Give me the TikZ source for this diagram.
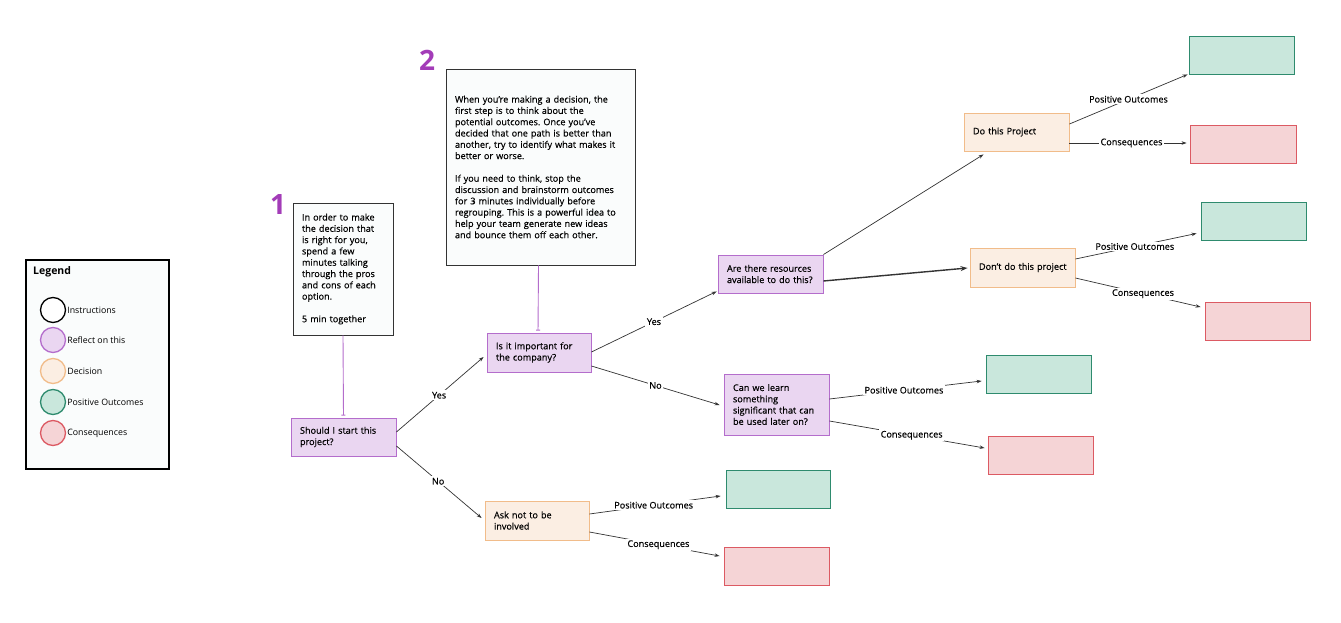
\documentclass[tikz,border=0pt]{standalone}
\usepackage{fontspec}
\setmainfont{Open Sans}
\newfontfamily\medfont{Open Sans}[FakeBold=0.35]
\usetikzlibrary{arrows.meta,calc}
\frenchspacing
\definecolor{reflectF}{HTML}{EAD6F1}
\definecolor{reflectB}{HTML}{B46DCC}
\definecolor{decF}{HTML}{FBEEE3}
\definecolor{decB}{HTML}{F1BC8A}
\definecolor{posF}{HTML}{C9E7DC}
\definecolor{posB}{HTML}{2E8B6E}
\definecolor{conF}{HTML}{F5D4D6}
\definecolor{conB}{HTML}{DC5A63}
\definecolor{ink}{HTML}{333333}
\definecolor{numc}{HTML}{A33CB8}
\definecolor{paper}{HTML}{FAFCFC}
\tikzset{
  txt/.style={font=\medfont\fontsize{9.1}{11.3}\selectfont},
  ltxt/.style={font=\fontsize{8.8}{11}\selectfont},
  box/.style={txt, rectangle, line width=0.9pt, inner xsep=9pt, inner ysep=0pt, align=left},
  reflect/.style={box, draw=reflectB, fill=reflectF},
  decision/.style={box, draw=decB, fill=decF},
  posbox/.style={rectangle, draw=posB, fill=posF, line width=0.9pt, minimum width=105pt, minimum height=38pt},
  conbox/.style={rectangle, draw=conB, fill=conF, line width=0.9pt, minimum width=105pt, minimum height=38pt},
  instr/.style={box, draw=ink, fill=paper},
  conn/.style={draw=ink, line width=0.7pt, -{Stealth[length=5pt,width=3.5pt]}},
  lbl/.style={txt, fill=white, inner sep=1.5pt},
  tie/.style={draw=reflectB, line width=0.9pt, -{Bar[width=4pt]}, shorten >=2pt},
  legc/.style={circle, minimum size=25pt, inner sep=0pt, line width=1.3pt},
  num/.style={font=\fontsize{28}{28}\selectfont\bfseries, text=numc, inner sep=0pt}
}
\begin{document}
\begin{tikzpicture}[x=1pt,y=-1pt]
\useasboundingbox (0,0) rectangle (1341,623);
\fill[white] (0,0) rectangle (1341,623);

% Legend
\node[draw=black, fill=paper, line width=1.4pt, minimum width=143pt, minimum height=209pt, inner sep=0pt] (legend) at (97.5,364.5) {};
\node[anchor=west, font=\fontsize{10.5}{12}\selectfont\bfseries, inner sep=0pt] (legt) at (33,272) {Legend};
\node[legc, draw=black, fill=white] (c1) at (53,310) {};
\node[legc, draw=reflectB, fill=reflectF] (c2) at (53,340) {};
\node[legc, draw=decB, fill=decF] (c3) at (53,371) {};
\node[legc, draw=posB, fill=posF] (c4) at (53,402) {};
\node[legc, draw=conB, fill=conF] (c5) at (53,433) {};
\node[ltxt, anchor=west, inner sep=1pt] (l1) at (c1.east) {Instructions};
\node[ltxt, anchor=west, inner sep=1pt] (l2) at (c2.east) {Reflect on this};
\node[ltxt, anchor=west, inner sep=1pt] (l3) at (c3.east) {Decision};
\node[ltxt, anchor=west, inner sep=1pt] (l4) at (c4.east) {Positive Outcomes};
\node[ltxt, anchor=west, inner sep=1pt] (l5) at (c5.east) {Consequences};

% Numbers
\node[num] (n1) at (278,205) {1};
\node[num] (n2) at (427,60) {2};

% Instruction boxes
\node[instr, minimum width=100pt, minimum height=132pt, text width=82pt, inner xsep=9pt] (box1) at (343,269)
 {In order to make\\the decision that\\is right for you,\\spend a few\\minutes talking\\through the pros\\and cons of each\\option.\\[11.3pt]5 min together};
\node[instr, minimum width=189pt, minimum height=196pt, text width=171pt] (box2) at (540.5,167)
 {When you’re making a decision, the\\first step is to think about the\\potential outcomes. Once you’ve\\decided that one path is better than\\another, try to identify what makes it\\better or worse.\\[11.3pt]If you need to think, stop the\\discussion and brainstorm outcomes\\for 3 minutes individually before\\regrouping. This is a powerful idea to\\help your team generate new ideas\\and bounce them off each other.};

% Flow nodes
\node[reflect, minimum width=105pt, minimum height=38pt, text width=87pt] (should) at (343.5,437) {Should I start this\\project?};
\node[reflect, minimum width=104pt, minimum height=39pt, text width=86pt] (imp) at (539,352.5) {Is it important for\\the company?};
\node[decision, minimum width=104pt, minimum height=39pt, text width=86pt] (ask) at (537,520.5) {Ask not to be\\involved};
\node[reflect, minimum width=105pt, minimum height=38pt, text width=87pt] (res) at (770.5,274) {Are there resources\\available to do this?};
\node[reflect, minimum width=105pt, minimum height=61pt, text width=87pt] (learn) at (776.5,404.5) {Can we learn\\something\\significant that can\\be used later on?};
\node[decision, minimum width=105pt, minimum height=38pt, text width=87pt] (dothis) at (1016.5,132) {Do this Project};
\node[decision, minimum width=105pt, minimum height=39pt, text width=87pt] (dont) at (1022.5,267.5) {\mbox{Don’t do this project}};

% Outcome boxes
\node[posbox] (g1) at (1241.5,55) {};
\node[conbox, minimum width=106pt] (r1) at (1243,144) {};
\node[posbox] (g2) at (1253.5,221) {};
\node[conbox] (r2) at (1257.5,321) {};
\node[posbox] (g3) at (1038.5,374.5) {};
\node[conbox] (r3) at (1040.5,455) {};
\node[posbox, minimum width=104pt] (g4) at (778,489) {};
\node[conbox] (r4) at (776.5,566) {};

% Purple ties
\draw[tie] (box1.south) -- (should.north);
\draw[tie] ($(box2.south)+(-2,0)$) -- ($(imp.north)+(-1,0)$);

% Connectors
\draw[conn] ($(should.east)+(0,-5)$) -- node[lbl,pos=0.49]{Yes} ($(imp.west)+(-3,4.5)$);
\draw[conn] ($(should.east)+(0,9)$) -- node[lbl,pos=0.49]{No} ($(ask.west)+(-3,-2.5)$);
\draw[conn] ($(imp.east)+(0,-0.5)$) -- node[lbl,pos=0.5]{Yes} ($(res.south west)+(-1,-2)$);
\draw[conn] ($(imp.east)+(0,13.5)$) -- node[lbl,pos=0.5]{No} ($(learn.west)+(-4,0.5)$);
\draw[conn] (res.north east) -- ($(dothis.south)+(-33,3)$);
\draw[conn, line width=1.4pt, -{Stealth[length=7pt,width=5pt]}] ($(res.east)+(0,7)$) -- ($(dont.west)+(-2,0.5)$);
\draw[conn] ($(dothis.east)+(0,-8)$) -- node[lbl,pos=0.5]{Positive Outcomes} ($(g1.south west)+(-1,0)$);
\draw[conn] ($(dothis.east)+(0,11)$) -- node[lbl,pos=0.53]{Consequences} ($(r1.west)+(-3,-1)$);
\draw[conn] ($(dont.east)+(0,-8.5)$) -- node[lbl,pos=0.49]{Positive Outcomes} ($(g2.south west)+(-4,-7)$);
\draw[conn] ($(dont.east)+(0,10.5)$) -- node[lbl,pos=0.54]{Consequences} ($(r2.west)+(-4,-14)$);
\draw[conn] ($(learn.east)+(0,-5.5)$) -- node[lbl,pos=0.49]{Positive Outcomes} ($(g3.west)+(-4,6.5)$);
\draw[conn] ($(learn.east)+(0,16.5)$) -- node[lbl,pos=0.53]{Consequences} ($(r3.west)+(-3,-7)$);
\draw[conn] ($(ask.east)+(0,-6.5)$) -- node[lbl,pos=0.49]{Positive Outcomes} ($(g4.west)+(-5,7)$);
\draw[conn] ($(ask.east)+(0,11.5)$) -- node[lbl,pos=0.53]{Consequences} ($(r4.west)+(-4,-10)$);
\end{tikzpicture}
\end{document}
